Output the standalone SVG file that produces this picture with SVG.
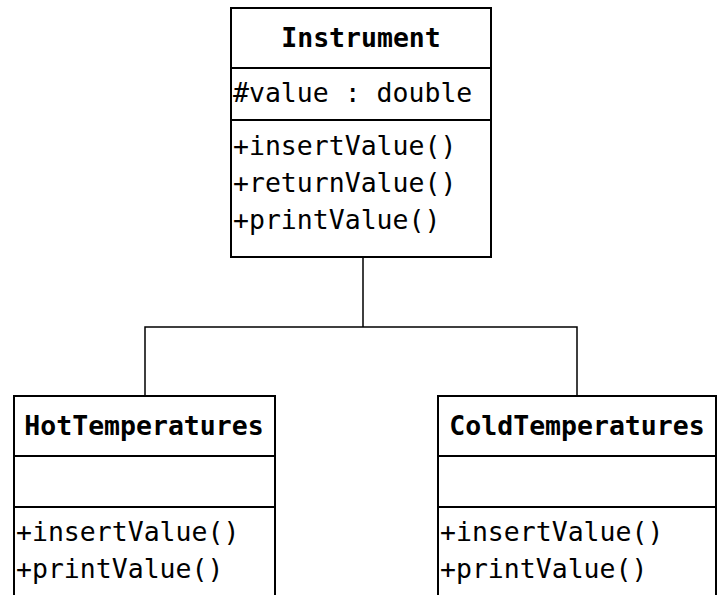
<svg xmlns="http://www.w3.org/2000/svg" width="720" height="595" viewBox="0 0 720 595">
<style>
.box{fill:#fff;stroke:#000;stroke-width:2}
.div{stroke:#000;stroke-width:2}
.t{font-family:"DejaVu Sans Mono","Liberation Mono",monospace;font-size:26.5px;fill:#000}
.h{font-weight:bold;text-anchor:middle}
.c{fill:none;stroke:#000;stroke-width:1.5}
</style>
<rect width="720" height="595" fill="#fff"/>
<g id="connectors">
<path class="c" d="M363 257V327M145 395V327H577V395"/>
</g>
<g id="Instrument">
<rect class="box" x="231" y="8" width="260" height="249"/>
<line class="div" x1="231" y1="68" x2="491" y2="68"/>
<line class="div" x1="231" y1="120" x2="491" y2="120"/>
<text class="t h" x="361" y="47">Instrument</text>
<text class="t" x="233" y="102">#value : double</text>
<text class="t" x="233" y="155">+insertValue()</text>
<text class="t" x="233" y="192">+returnValue()</text>
<text class="t" x="233" y="229">+printValue()</text>
</g>
<g id="HotTemperatures">
<rect class="box" x="14" y="396" width="261" height="210"/>
<line class="div" x1="14" y1="456" x2="275" y2="456"/>
<line class="div" x1="14" y1="507" x2="275" y2="507"/>
<text class="t h" x="144" y="435">HotTemperatures</text>
<text class="t" x="16" y="541">+insertValue()</text>
<text class="t" x="16" y="578">+printValue()</text>
</g>
<g id="ColdTemperatures">
<rect class="box" x="438" y="396" width="278" height="210"/>
<line class="div" x1="438" y1="456" x2="716" y2="456"/>
<line class="div" x1="438" y1="507" x2="716" y2="507"/>
<text class="t h" x="577" y="435">ColdTemperatures</text>
<text class="t" x="440" y="541">+insertValue()</text>
<text class="t" x="440" y="578">+printValue()</text>
</g>
</svg>
